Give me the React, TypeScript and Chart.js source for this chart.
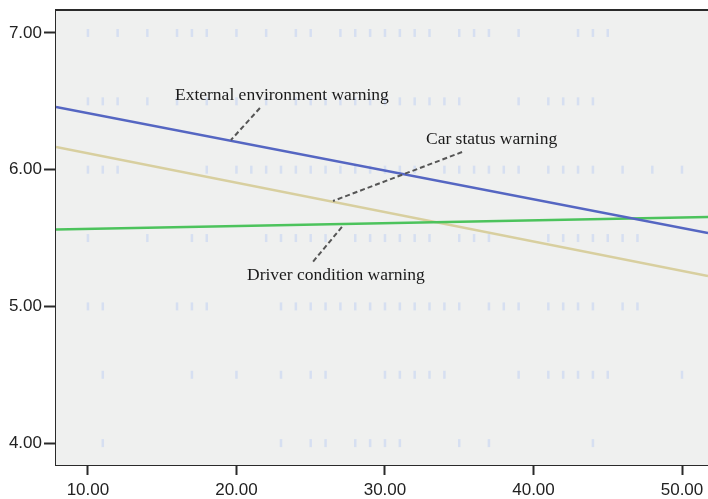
import React, { useEffect, useRef } from "react";
import { Chart, registerables } from "chart.js";

Chart.register(...registerables);

// Axis ticks
const xTicks = [10, 20, 30, 40, 50];
const yTicks = [4, 5, 6, 7];
const xRange = [7.85, 51.75];
const yRange = [3.84, 7.168];

// Fit lines (value at left and right edge of x range)
const lineX = [7.85, 51.75];
const externalEnvironment = [6.459, 5.537];
const carStatus = [6.166, 5.222];
const driverCondition = [5.563, 5.654];

// Faint scatter marks: x positions for each response level
const levels = [7, 6.5, 6, 5.5, 5, 4.5, 4];
const x70 = [10, 12, 14, 16, 17, 18, 20, 22, 24, 25, 27, 28, 29, 30, 31, 32, 33, 35, 36, 37, 39, 43, 44, 45];
const x65 = [10, 11, 12, 14, 16, 18, 20, 22, 24, 25, 26, 27, 28, 29, 30, 31, 32, 33, 34, 35, 39, 41, 42, 43, 44];
const x60 = [10, 11, 12, 18, 20, 21, 22, 23, 24, 25, 26, 27, 28, 29, 30, 31, 32, 34, 35, 36, 37, 38, 39, 41, 42, 43, 44, 46, 48, 50];
const x55 = [10, 14, 17, 18, 22, 23, 24, 25, 26, 28, 29, 30, 31, 32, 33, 35, 36, 37, 41, 42, 43, 44, 45, 46, 47];
const x50 = [10, 11, 16, 17, 18, 23, 24, 25, 26, 27, 28, 29, 30, 31, 32, 33, 34, 35, 37, 38, 39, 41, 42, 43, 44, 46, 47];
const x45 = [11, 17, 20, 23, 25, 26, 30, 31, 32, 33, 34, 39, 41, 42, 43, 44, 45, 50];
const x40 = [11, 23, 25, 26, 28, 29, 30, 31, 35, 37, 44];
const levelXs = [x70, x65, x60, x55, x50, x45, x40];

// Annotation labels and leader lines (data coordinates)
const labelTexts = ["External environment warning", "Car status warning", "Driver condition warning"];
const labelAnchors = [[15.86, 6.546], [32.76, 6.224], [20.71, 5.229]];
const leaderStarts = [[21.58, 6.451], [35.19, 6.129], [27.1, 5.581]];
const leaderEnds = [[19.63, 6.217], [26.5, 5.771], [25.08, 5.317]];

const BG = "#eff0ef";
const AXIS = "#2a2a2a";

export default function App() {
  const ref = useRef<HTMLCanvasElement | null>(null);

  useEffect(() => {
    if (!ref.current) return;

    const scatterData: { x: number; y: number }[] = [];
    levels.forEach((lv, i) => levelXs[i].forEach((x) => scatterData.push({ x, y: lv })));

    const mk = (ys: number[]) => lineX.map((x, i) => ({ x, y: ys[i] }));

    const framePlugin = {
      id: "frame",
      beforeDatasetsDraw(chart: any) {
        const { ctx, chartArea: a } = chart;
        ctx.save();
        ctx.fillStyle = BG;
        ctx.fillRect(a.left, a.top, a.right - a.left, a.bottom - a.top);
        ctx.restore();
      },
      afterDraw(chart: any) {
        const { ctx, chartArea: a } = chart;
        ctx.save();
        ctx.strokeStyle = AXIS;
        ctx.lineWidth = 2;
        ctx.beginPath();
        ctx.moveTo(a.left, a.top);
        ctx.lineTo(a.right, a.top);
        ctx.stroke();
        ctx.restore();
      },
    };

    const annotPlugin = {
      id: "annot",
      afterDatasetsDraw(chart: any) {
        const { ctx } = chart;
        const xs = chart.scales.x;
        const ys = chart.scales.y;
        ctx.save();
        ctx.strokeStyle = "#555555";
        ctx.lineWidth = 2;
        ctx.setLineDash([5, 3]);
        leaderStarts.forEach((s, i) => {
          const e = leaderEnds[i];
          ctx.beginPath();
          ctx.moveTo(xs.getPixelForValue(s[0]), ys.getPixelForValue(s[1]));
          ctx.lineTo(xs.getPixelForValue(e[0]), ys.getPixelForValue(e[1]));
          ctx.stroke();
        });
        ctx.setLineDash([]);
        ctx.fillStyle = "#1a1a1a";
        ctx.font = "17.5px 'Liberation Serif', 'Times New Roman', serif";
        ctx.textAlign = "left";
        ctx.textBaseline = "middle";
        labelTexts.forEach((t, i) => {
          const p = labelAnchors[i];
          ctx.fillText(t, xs.getPixelForValue(p[0]), ys.getPixelForValue(p[1]));
        });
        ctx.restore();
      },
    };

    const tickFont = { family: "'Liberation Sans', Arial, sans-serif", size: 17 };

    const chart = new Chart(ref.current, {
      type: "scatter",
      data: {
        datasets: [
          {
            label: "External environment warning",
            data: mk(externalEnvironment),
            showLine: true,
            borderColor: "#5566c2",
            borderWidth: 2.5,
            pointRadius: 0,
            order: 0,
          },
          {
            label: "Driver condition warning",
            data: mk(driverCondition),
            showLine: true,
            borderColor: "#4cc35c",
            borderWidth: 2.5,
            pointRadius: 0,
            order: 1,
          },
          {
            label: "Car status warning",
            data: mk(carStatus),
            showLine: true,
            borderColor: "#d8cf9f",
            borderWidth: 2.5,
            pointRadius: 0,
            order: 2,
          },
          {
            label: "Responses",
            data: scatterData,
            pointStyle: "line",
            rotation: 90,
            pointRadius: 4,
            borderWidth: 2.5,
            borderColor: "rgba(205,218,242,0.75)",
            backgroundColor: "rgba(205,218,242,0.75)",
            order: 3,
          },
        ],
      },
      options: {
        responsive: false,
        animation: false,
        events: [],
        layout: { autoPadding: false, padding: { top: 10, right: 0, left: 0, bottom: 0 } },
        plugins: { legend: { display: false }, tooltip: { enabled: false } },
        scales: {
          x: {
            type: "linear",
            min: xRange[0],
            max: xRange[1],
            afterBuildTicks: (s: any) => {
              s.ticks = xTicks.map((v) => ({ value: v }));
            },
            afterFit: (s: any) => {
              s.height = 34;
              s.paddingLeft = 0;
              s.paddingRight = 0;
            },
            ticks: {
              callback: (v: any) => Number(v).toFixed(2),
              font: tickFont,
              color: "#222",
              padding: 5,
              maxRotation: 0,
              autoSkip: false,
            },
            grid: {
              display: true,
              drawOnChartArea: false,
              drawTicks: true,
              tickLength: 10,
              tickColor: AXIS,
              tickWidth: 2,
              color: AXIS,
            },
            border: { display: true, color: AXIS, width: 2 },
          },
          y: {
            type: "linear",
            min: yRange[0],
            max: yRange[1],
            afterBuildTicks: (s: any) => {
              s.ticks = yTicks.map((v) => ({ value: v }));
            },
            afterFit: (s: any) => {
              s.width = 56;
              s.paddingTop = 0;
              s.paddingBottom = 0;
            },
            ticks: {
              callback: (v: any) => Number(v).toFixed(2),
              font: tickFont,
              color: "#222",
              padding: 2,
              autoSkip: false,
            },
            grid: {
              display: true,
              drawOnChartArea: false,
              drawTicks: true,
              tickLength: 12,
              tickColor: AXIS,
              tickWidth: 2,
              color: AXIS,
            },
            border: { display: true, color: AXIS, width: 2 },
          },
        },
      },
      plugins: [framePlugin, annotPlugin],
    } as any);

    return () => chart.destroy();
  }, []);

  return (
    <div style={{ position: "fixed", left: 0, top: 0, width: 708, height: 499, background: "#fff" }}>
      <canvas ref={ref} width={708} height={499} style={{ display: "block" }} />
    </div>
  );
}
